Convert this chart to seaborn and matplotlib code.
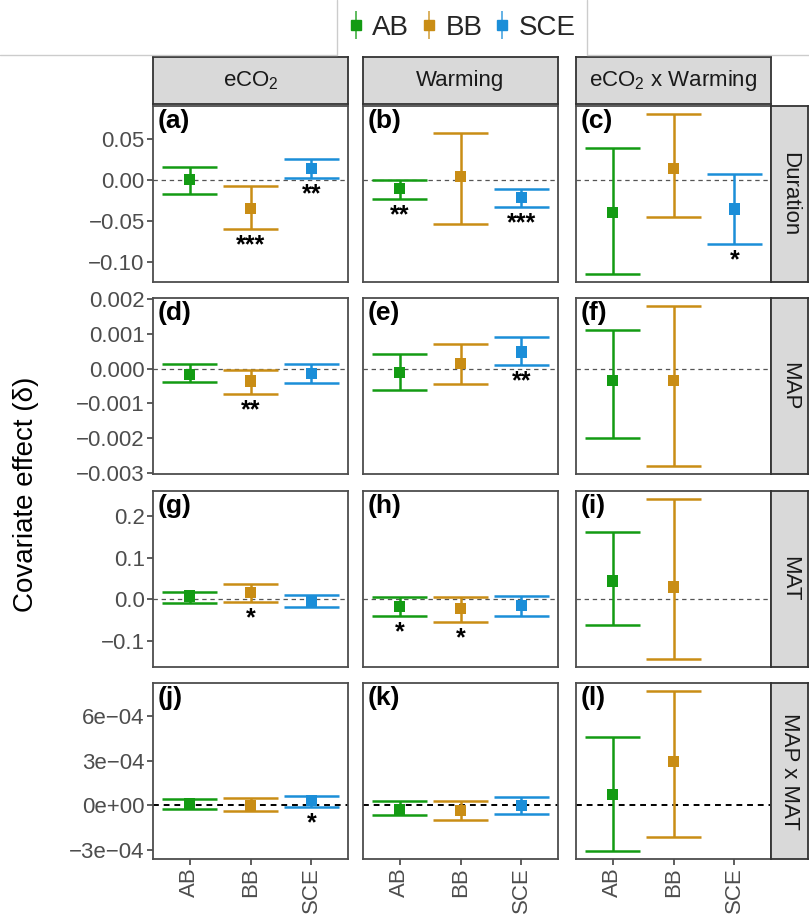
import numpy as np
import pandas as pd
import matplotlib
matplotlib.use("Agg")
import matplotlib.pyplot as plt
from matplotlib.lines import Line2D
from matplotlib.legend_handler import HandlerTuple
import seaborn as sns

species = ["AB", "BB", "SCE"]
treatments = ["eCO$_\\mathregular{2}$", "Warming", "eCO$_\\mathregular{2}$ x Warming"]
covariates = ["Duration", "MAP", "MAT", "MAP x MAT"]
palette = {"AB": "#139B13", "BB": "#C98D15", "SCE": "#1B8ED8"}
nan = np.nan

# one list per treatment column, species order AB, BB, SCE
duration_est = [[0.0, -0.0355, 0.0135], [-0.0114, 0.0033, -0.0224], [-0.040, 0.0135, -0.0359]]
duration_lo = [[-0.0175, -0.0604, 0.002], [-0.0233, -0.0539, -0.0335], [-0.1152, -0.0462, -0.0788]]
duration_hi = [[0.0156, -0.0074, 0.0245], [0.0, 0.0572, -0.0114], [0.0388, 0.080, 0.0074]]
duration_sig = [["", "***", "**"], ["**", "", "***"], ["", "", "*"]]

map_est = [[-0.000164, -0.000357, -0.000144], [-0.0001, 0.000144, 0.000478], [-0.000337, -0.000337, nan]]
map_lo = [[-0.000395, -0.00072, -0.000415], [-0.000625, -0.000432, 0.000095], [-0.002, -0.0028, nan]]
map_hi = [[0.000124, -0.00003, 0.00012], [0.000432, 0.00072, 0.00091], [0.00112, 0.0018, nan]]
map_sig = [["", "**", ""], ["", "", "**"], ["", "", ""]]

mat_est = [[0.008, 0.016, -0.004], [-0.016, -0.0225, -0.0144], [0.044, 0.0295, nan]]
mat_lo = [[-0.008, -0.0058, -0.0185], [-0.04, -0.0545, -0.04], [-0.0617, -0.1426, nan]]
mat_hi = [[0.0175, 0.036, 0.0103], [0.0063, 0.0063, 0.008], [0.162, 0.24, nan]]
mat_sig = [["", "*", ""], ["*", "*", ""], ["", "", ""]]

mapmat_est = [[1.1e-5, 0.0, 3.4e-5], [-2.7e-5, -3.4e-5, 0.0], [7.5e-5, 2.95e-4, nan]]
mapmat_lo = [[-2.2e-5, -3.9e-5, -1.1e-5], [-6.8e-5, -9.5e-5, -5.7e-5], [-3.07e-4, -2.1e-4, nan]]
mapmat_hi = [[4.6e-5, 5.0e-5, 6.1e-5], [2.7e-5, 2.7e-5, 5.7e-5], [4.6e-4, 7.7e-4, nan]]
mapmat_sig = [["", "", "*"], ["", "", ""], ["", "", ""]]

yticks = [
    [0.05, 0.0, -0.05, -0.10],
    [0.002, 0.001, 0.0, -0.001, -0.002, -0.003],
    [0.2, 0.1, 0.0, -0.1],
    [6e-4, 3e-4, 0.0, -3e-4],
]
ytick_labels = [
    ["0.05", "0.00", "\u22120.05", "\u22120.10"],
    ["0.002", "0.001", "0.000", "\u22120.001", "\u22120.002", "\u22120.003"],
    ["0.2", "0.1", "0.0", "\u22120.1"],
    ["6e\u221204", "3e\u221204", "0e+00", "\u22123e\u221204"],
]
panel_tags = ["(a)", "(b)", "(c)", "(d)", "(e)", "(f)", "(g)", "(h)", "(i)", "(j)", "(k)", "(l)"]

blocks = {
    "Duration": (duration_est, duration_lo, duration_hi, duration_sig),
    "MAP": (map_est, map_lo, map_hi, map_sig),
    "MAT": (mat_est, mat_lo, mat_hi, mat_sig),
    "MAP x MAT": (mapmat_est, mapmat_lo, mapmat_hi, mapmat_sig),
}
rows = []
for cov, (e, l, h, s) in blocks.items():
    for j, trt in enumerate(treatments):
        for k, sp in enumerate(species):
            rows.append(dict(covariate=cov, treatment=trt, species=sp, xpos=k,
                             est=e[j][k], lo=l[j][k], hi=h[j][k], sig=s[j][k]))
df = pd.DataFrame(rows)

sns.set_theme(style="white")
plt.rcParams["font.family"] = ["Liberation Sans", "DejaVu Sans"]

W, H = 809, 922
fig = plt.figure(figsize=(W / 100, H / 100), dpi=100)


def rect(x, y, w, h):
    return [x / W, 1 - (y + h) / H, w / W, h / H]


col_x = [153, 363, 576]
col_w = 195
row_y = [106, 298, 491, 683]
row_h = 176
border = "#4D4D4D"
tick_col = "#4D4D4D"
lw = 1.8

for i, cov in enumerate(covariates):
    rdf = df[df.covariate == cov]
    lo_all, hi_all = rdf.lo.min(), rdf.hi.max()
    pad = 0.05 * (hi_all - lo_all)
    for j, trt in enumerate(treatments):
        ax = fig.add_axes(rect(col_x[j], row_y[i], col_w, row_h))
        sub = rdf[(rdf.treatment == trt)].dropna(subset=["est"])
        zero_kw = dict(color="#555555", lw=0.9, ls=(0, (3.5, 3))) if i < 3 else \
            dict(color="black", lw=1.4, ls=(0, (3, 2.5)))
        ax.axhline(0, zorder=1, **zero_kw)
        cols = sub.species.map(palette)
        ax.vlines(sub.xpos, sub.lo, sub.hi, colors=cols, lw=lw, zorder=2)
        ax.hlines(sub.lo, sub.xpos - 0.45, sub.xpos + 0.45, colors=cols, lw=lw, zorder=2)
        ax.hlines(sub.hi, sub.xpos - 0.45, sub.xpos + 0.45, colors=cols, lw=lw, zorder=2)
        sns.scatterplot(data=sub, x="xpos", y="est", hue="species", palette=palette,
                        hue_order=species, marker="s", s=64, linewidth=0,
                        legend=False, ax=ax, zorder=3)
        for _, r in sub.iterrows():
            if r.sig:
                ax.annotate(r.sig, (r.xpos, r.lo), xytext=(0, -3), textcoords="offset points",
                            ha="center", va="top", fontsize=18, fontweight="bold", color="black")
        ax.annotate(panel_tags[i * 3 + j], (0, 1), xycoords="axes fraction", xytext=(3.5, -2.5),
                    textcoords="offset points", ha="left", va="top",
                    fontsize=19, fontweight="bold", color="black")
        ax.set_xlim(-0.6, 2.6)
        ax.set_ylim(lo_all - pad, hi_all + pad)
        ax.set_xlabel("")
        ax.set_ylabel("")
        for sp in ax.spines.values():
            sp.set_color(border)
            sp.set_linewidth(1.3)
        ax.set_yticks(yticks[i])
        if j == 0:
            ax.set_yticklabels(ytick_labels[i], fontsize=16, color=tick_col)
            ax.tick_params(axis="y", left=True, length=4, width=1.1, color="#333333", pad=2)
        else:
            ax.tick_params(axis="y", left=False, labelleft=False)
        ax.set_xticks(range(len(species)))
        if i == len(covariates) - 1:
            ax.set_xticklabels(species, rotation=90, fontsize=16, color=tick_col)
            ax.tick_params(axis="x", bottom=True, length=4, width=1.1, color="#333333", pad=2)
        else:
            ax.tick_params(axis="x", bottom=False, labelbottom=False)

# strips
strip_bg = "#D9D9D9"
strip_edge = "#333333"
for j, trt in enumerate(treatments):
    sax = fig.add_axes(rect(col_x[j], 57, col_w, 47))
    sax.set_facecolor(strip_bg)
    sax.set_xticks([])
    sax.set_yticks([])
    for sp in sax.spines.values():
        sp.set_color(strip_edge)
        sp.set_linewidth(1.3)
    sax.text(0.5, 0.5, trt, ha="center", va="center", fontsize=16, color="#1A1A1A",
             transform=sax.transAxes)
for i, cov in enumerate(covariates):
    sax = fig.add_axes(rect(771, row_y[i], 37, row_h))
    sax.set_facecolor(strip_bg)
    sax.set_xticks([])
    sax.set_yticks([])
    for sp in sax.spines.values():
        sp.set_color(strip_edge)
        sp.set_linewidth(1.3)
    sax.text(0.5, 0.5, cov, ha="center", va="center", rotation=-90, fontsize=16,
             color="#1A1A1A", transform=sax.transAxes)

fig.text(26 / W, 1 - 494 / H, "Covariate effect (\u03b4)", rotation=90, ha="center",
         va="center", fontsize=20, color="black")

# legend: vertical bar with a square on it
handles = [(Line2D([], [], marker="|", ms=20, mew=1.2, ls="none", color=palette[s], alpha=0.8),
            Line2D([], [], marker="s", ms=7, ls="none", color=palette[s])) for s in species]
fig.legend(handles, species, handler_map={tuple: HandlerTuple(ndivide=1)},
           loc="center", bbox_to_anchor=(462 / W, 1 - 28 / H), ncol=3, frameon=False,
           fontsize=20, handlelength=0.5, handletextpad=0.35, columnspacing=0.45)
for xs, ys in [([0, 337, 337], [55, 55, 0]), ([587, 587, W], [0, 55, 55])]:
    fig.add_artist(Line2D([x / W for x in xs], [1 - y / H for y in ys],
                          transform=fig.transFigure, color="#CCCCCC", lw=1))

fig.savefig("out.png", dpi=100)
